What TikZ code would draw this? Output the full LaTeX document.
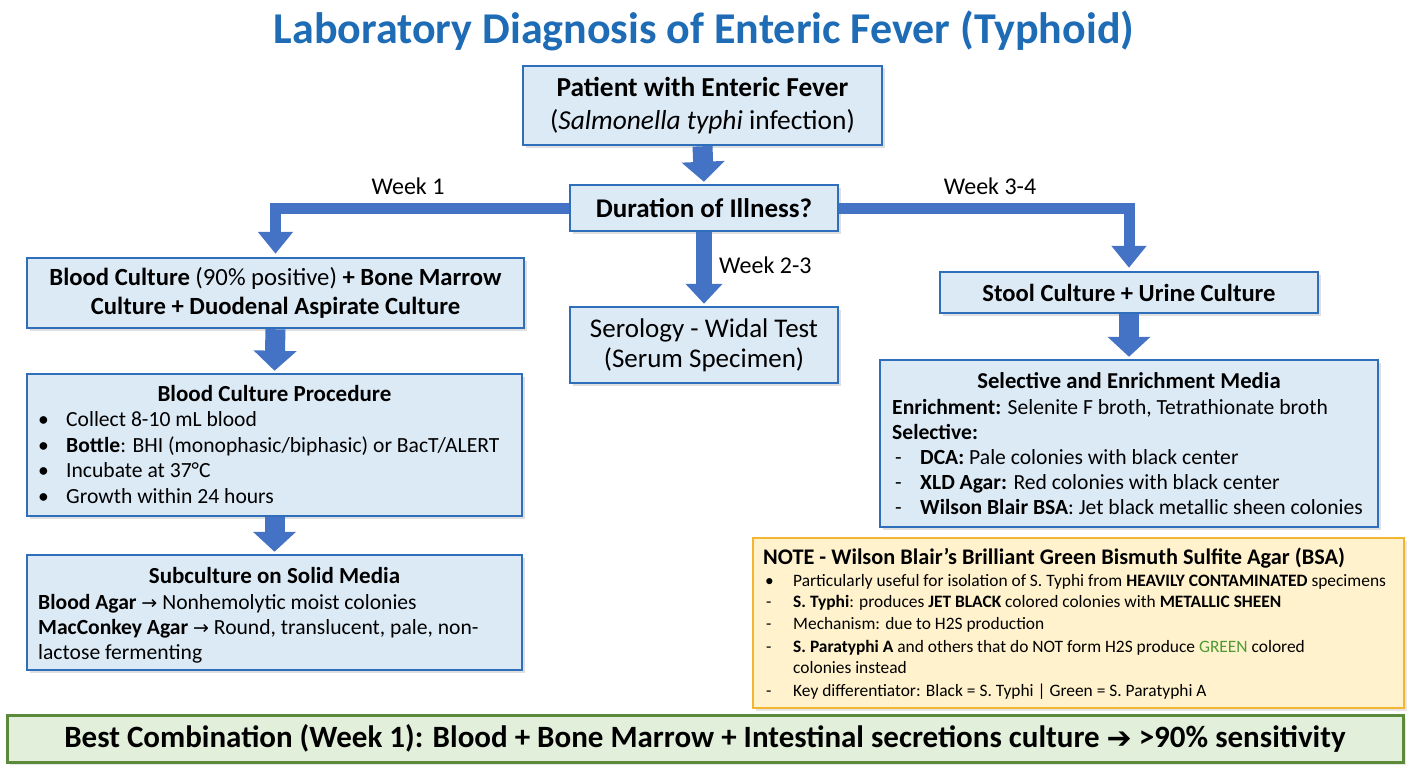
\documentclass[tikz,border=0pt]{standalone}
\usepackage{fontspec}
\setmainfont{Carlito}
\newfontfamily\symfont{DejaVu Sans}
\usetikzlibrary{arrows.meta,shadows}
\definecolor{boxfill}{HTML}{DCEAF6}
\definecolor{boxline}{HTML}{2F6EBA}
\definecolor{arrowblue}{HTML}{4472C4}
\definecolor{titleblue}{HTML}{1E6CB5}
\definecolor{notefill}{HTML}{FFF2CC}
\definecolor{noteline}{HTML}{F2B632}
\definecolor{greenfill}{HTML}{E2EFDA}
\definecolor{greenline}{HTML}{5A8A3A}
\definecolor{greenword}{HTML}{4F9A35}
\newcommand{\setfs}[1]{\fontsize{#1}{1.2\dimexpr#1pt\relax}\selectfont}
\newcommand{\rarr}{{\symfont\fontsize{19}{22}\selectfont →}}
\tikzset{
  box/.style={draw=boxline, line width=2.5pt, fill=boxfill, inner sep=0pt,
    drop shadow={opacity=0.25, shadow xshift=2.5pt, shadow yshift=-2.5pt}},
  notebox/.style={draw=noteline, line width=2.5pt, fill=notefill, inner sep=0pt,
    drop shadow={opacity=0.2, shadow xshift=2.5pt, shadow yshift=-2.5pt}},
  greenbox/.style={draw=greenline, line width=3pt, fill=greenfill, inner sep=0pt,
    drop shadow={opacity=0.2, shadow xshift=2.5pt, shadow yshift=-2.5pt}},
  bigarrow/.style={draw=arrowblue, line width=20pt, shorten >=2pt,
    -{Triangle[width=42pt,length=20pt]}},
  midarrow/.style={draw=arrowblue, line width=16pt, shorten >=2pt,
    -{Triangle[width=36pt,length=20pt]}},
  elbow/.style={draw=arrowblue, line width=11pt, line join=miter, shorten >=3pt,
    -{Triangle[width=34pt,length=22pt]}},
  lbl/.style={font=\setfs{24}, inner sep=0pt},
  row/.style={anchor=base west, inner sep=0pt, font=\setfs{21.6}},
  nrow/.style={anchor=base west, inner sep=0pt, font=\setfs{17.4}},
  boxtitle/.style={anchor=base, inner sep=0pt, font=\bfseries\setfs{23}},
}
\begin{document}
\begin{tikzpicture}[x=1pt,y=-1pt]
\useasboundingbox (0,0) rectangle (1408,768);
% title
\node[font=\bfseries\setfs{44}, text=titleblue, inner sep=0pt] (title) at (704,31)
  {Laboratory Diagnosis of Enteric Fever (Typhoid)};
% top boxes
\node[box, minimum width=359pt, minimum height=79pt, align=center,
  font=\fontsize{27.4}{33}\selectfont] (pat) at (702.5,105.5)
  {\bfseries Patient with Enteric Fever\\({\itshape Salmonella typhi} infection)};
\node[box, minimum width=268pt, minimum height=46pt, font=\bfseries\setfs{27}] (dur) at (704,208)
  {Duration of Illness?};
\node[box, minimum width=268pt, minimum height=76pt, align=center,
  font=\fontsize{27}{30}\selectfont] (ser) at (704,345)
  {Serology - Widal Test\\(Serum Specimen)};
\node[box, minimum width=497pt, minimum height=70pt, align=center,
  font=\fontsize{24.7}{28.5}\selectfont] (bc) at (275.5,293)
  {{\bfseries Blood Culture} (90\% positive) {\bfseries + Bone Marrow}\\
   \bfseries Culture + Duodenal Aspirate Culture};
\node[box, minimum width=378pt, minimum height=41pt, font=\bfseries\setfs{24.6}] (stool) at (1129,292.5)
  {Stool Culture + Urine Culture};
% procedure box
\node[box, minimum width=495pt, minimum height=142pt] (proc) at (274.5,445) {};
\node[boxtitle] (procT) at (274.5,401.5) {Blood Culture Procedure};
\node[row] (pb1) at (38,426.5) {\textbullet};
\node[row] (pb2) at (38,452) {\textbullet};
\node[row] (pb3) at (38,477.5) {\textbullet};
\node[row] (pb4) at (38,503) {\textbullet};
\node[row] (p1) at (66,426.5) {Collect 8-10 mL blood};
\node[row] (p2) at (66,452) {\textbf{Bottle}: BHI (monophasic/biphasic) or BacT/ALERT};
\node[row] (p3) at (66,477.5) {Incubate at 37°C};
\node[row] (p4) at (66,503) {Growth within 24 hours};
% subculture box
\node[box, minimum width=495pt, minimum height=115pt] (sub) at (274.5,612.5) {};
\node[boxtitle] (subT) at (274.5,583.5) {Subculture on Solid Media};
\node[row] (s1) at (38,609) {\textbf{Blood Agar} \rarr{} Nonhemolytic moist colonies};
\node[row] (s2) at (38,634) {\textbf{MacConkey Agar} \rarr{} Round, translucent, pale, non-};
\node[row] (s3) at (38,659) {lactose fermenting};
% selective box
\node[box, minimum width=498pt, minimum height=167pt] (sel) at (1129,443.5) {};
\node[boxtitle, font=\bfseries\setfs{22.7}] (selT) at (1129,388.5) {Selective and Enrichment Media};
\node[row] (e1) at (892,414) {\textbf{Enrichment:} Selenite F broth, Tetrathionate broth};
\node[row] (e2) at (892,439.5) {\textbf{Selective:}};
\node[row] (ed3) at (895,464.5) {-};
\node[row] (ed4) at (895,489) {-};
\node[row] (ed5) at (895,514) {-};
\node[row] (e3) at (920,464.5) {\textbf{DCA:} Pale colonies with black center};
\node[row] (e4) at (920,489) {\textbf{XLD Agar:} Red colonies with black center};
\node[row] (e5) at (920,514) {\textbf{Wilson Blair BSA}: Jet black metallic sheen colonies};
% note box
\node[notebox, minimum width=651pt, minimum height=170pt] (note) at (1078.5,623) {};
\node[nrow, font=\bfseries\setfs{22.3}] (nT) at (763,564.5) {NOTE - Wilson Blair’s Brilliant Green Bismuth Sulfite Agar (BSA)};
\node[nrow] (nb1) at (765,586) {\textbullet};
\node[nrow] (nb2) at (766,607) {-};
\node[nrow] (nb3) at (766,629) {-};
\node[nrow] (nb4) at (766,652) {-};
\node[nrow] (nb6) at (766,696) {-};
\node[nrow] (n1) at (793,586) {Particularly useful for isolation of S. Typhi from \textbf{HEAVILY CONTAMINATED} specimens};
\node[nrow] (n2) at (793,607) {\textbf{S. Typhi}: produces \textbf{JET BLACK} colored colonies with \textbf{METALLIC SHEEN}};
\node[nrow] (n3) at (793,629) {Mechanism: due to H2S production};
\node[nrow] (n4) at (793,652) {\textbf{S. Paratyphi A} and others that do NOT form H2S produce \textcolor{greenword}{GREEN} colored};
\node[nrow] (n5) at (793,673) {colonies instead};
\node[nrow] (n6) at (793,696) {Key differentiator: Black = S. Typhi | Green = S. Paratyphi A};
% bottom bar
\node[greenbox, minimum width=1396pt, minimum height=47pt, font=\bfseries\setfs{31}] (best) at (705,738.5)
  {Best Combination (Week 1): Blood + Bone Marrow + Intestinal secretions culture {\symfont\fontsize{30}{32}\selectfont\raisebox{-1pt}{➔}} >90\% sensitivity};
% connectors
\draw[bigarrow] (pat.south) -- (dur.north);
\draw[midarrow] (dur.south) -- (ser.north);
\draw[elbow] (dur.west) -| (bc.north);
\draw[elbow] (dur.east) -| (stool.north);
\draw[bigarrow] (bc.south) -- (proc.north);
\draw[bigarrow] (proc.south) -- (sub.north);
\draw[bigarrow] (stool.south) -- (sel.north);
% labels
\node[lbl] (w1) at (408,186) {Week 1};
\node[lbl] (w34) at (990,186) {Week 3-4};
\node[lbl, anchor=west] (w23) at (719,265) {Week 2-3};
\end{tikzpicture}
\end{document}
